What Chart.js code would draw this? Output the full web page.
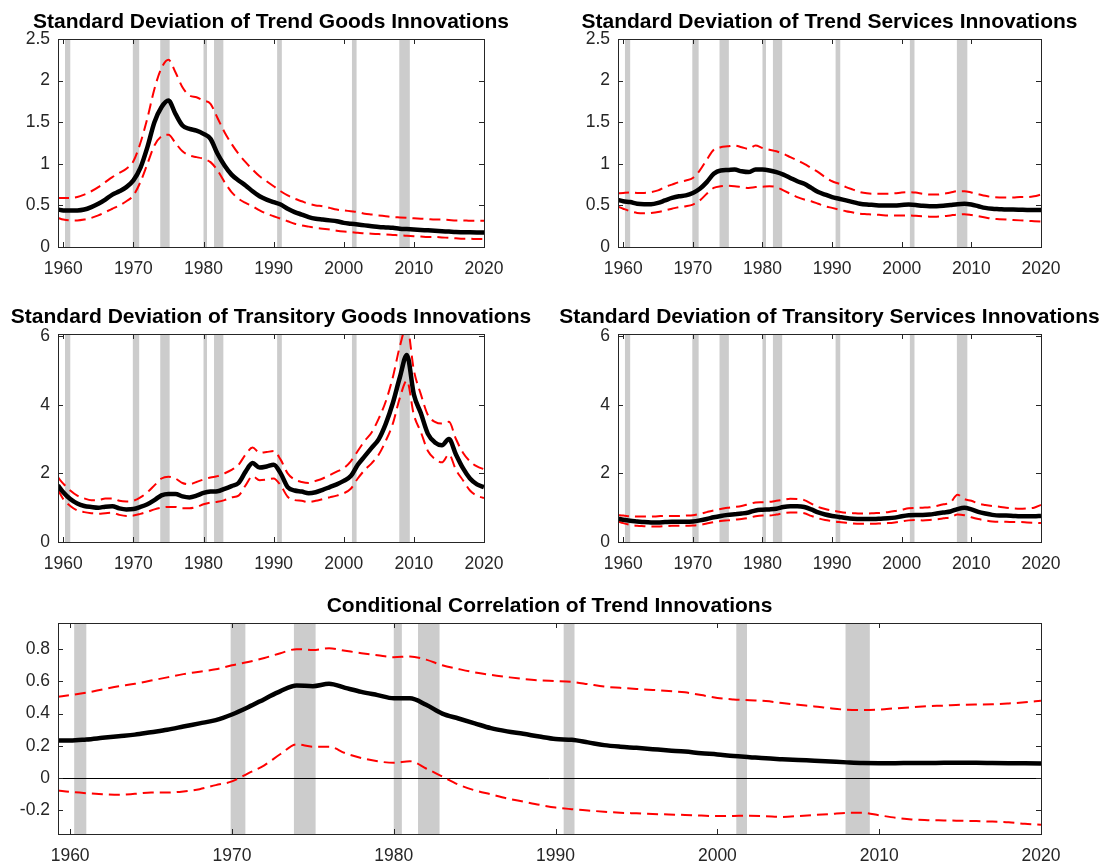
<!DOCTYPE html>
<html lang="en">
<head>
<meta charset="UTF-8">
<title>Trend and Transitory Innovations</title>
<script src="https://cdn.jsdelivr.net/npm/chart.js"></script>
<style>
  body { margin: 0; background: #fff; width: 1104px; height: 865px; overflow: hidden; position: relative; }
  canvas { position: absolute; }
</style>
</head>
<body>
<canvas id="trendGoods"></canvas>
<canvas id="trendServices"></canvas>
<canvas id="transGoods"></canvas>
<canvas id="transServices"></canvas>
<canvas id="trendCorr"></canvas>
<script>
// sample dates (first observation 1959Q2, then yearly)
const years = [1959.25,
  1960, 1961, 1962, 1963, 1964, 1965, 1966, 1967, 1968, 1969,
  1970, 1971, 1972, 1973, 1974, 1975, 1976, 1977, 1978, 1979,
  1980, 1981, 1982, 1983, 1984, 1985, 1986, 1987, 1988, 1989,
  1990, 1991, 1992, 1993, 1994, 1995, 1996, 1997, 1998, 1999,
  2000, 2001, 2002, 2003, 2004, 2005, 2006, 2007, 2008, 2009,
  2010, 2011, 2012, 2013, 2014, 2015, 2016, 2017, 2018, 2019,
  2020];

// NBER recessions (start, end)
const recessions = [[1960.25, 1961.0], [1969.92, 1970.83], [1973.83, 1975.17], [1980.0, 1980.5],
  [1981.5, 1982.83], [1990.5, 1991.17], [2001.17, 2001.83], [2007.92, 2009.42]];

const decadeTicks = [1960, 1970, 1980, 1990, 2000, 2010, 2020];
const trendTicks = [0, 0.5, 1, 1.5, 2, 2.5];
const transTicks = [0, 2, 4, 6];
const corrTicks = [-0.2, 0, 0.2, 0.4, 0.6, 0.8];

// Standard deviation of trend goods innovations
const trendGoodsMid = [0.45,
  0.44, 0.44, 0.44, 0.45, 0.48, 0.52, 0.57, 0.63, 0.67, 0.72,
  0.80, 0.95, 1.20, 1.50, 1.68, 1.76, 1.60, 1.46, 1.42, 1.40,
  1.36, 1.30, 1.12, 0.98, 0.87, 0.80, 0.74, 0.67, 0.61, 0.57,
  0.54, 0.51, 0.46, 0.42, 0.39, 0.36, 0.34, 0.33, 0.32, 0.31,
  0.29, 0.28, 0.27, 0.26, 0.25, 0.24, 0.235, 0.23, 0.22, 0.215,
  0.21, 0.205, 0.20, 0.195, 0.19, 0.185, 0.18, 0.178, 0.176, 0.175,
  0.175];
const trendGoodsHi = [0.59,
  0.59, 0.59, 0.60, 0.63, 0.67, 0.72, 0.78, 0.84, 0.89, 0.94,
  1.03, 1.25, 1.55, 1.90, 2.15, 2.25, 2.10, 1.92, 1.82, 1.80,
  1.76, 1.72, 1.55, 1.38, 1.24, 1.12, 1.02, 0.93, 0.85, 0.79,
  0.73, 0.67, 0.62, 0.58, 0.55, 0.52, 0.50, 0.49, 0.47, 0.45,
  0.44, 0.43, 0.42, 0.40, 0.39, 0.38, 0.37, 0.36, 0.355, 0.35,
  0.345, 0.34, 0.335, 0.33, 0.33, 0.325, 0.32, 0.32, 0.315, 0.315,
  0.315];
const trendGoodsLo = [0.35,
  0.33, 0.32, 0.32, 0.33, 0.35, 0.38, 0.42, 0.46, 0.50, 0.55,
  0.62, 0.78, 1.00, 1.22, 1.33, 1.35, 1.25, 1.15, 1.10, 1.08,
  1.06, 1.02, 0.92, 0.78, 0.66, 0.58, 0.53, 0.49, 0.44, 0.40,
  0.37, 0.34, 0.31, 0.28, 0.26, 0.245, 0.23, 0.22, 0.21, 0.195,
  0.185, 0.18, 0.17, 0.165, 0.16, 0.155, 0.15, 0.145, 0.14, 0.135,
  0.13, 0.125, 0.12, 0.12, 0.115, 0.11, 0.105, 0.10, 0.10, 0.095,
  0.095];

// Standard deviation of trend services innovations
const trendServMid = [0.565,
  0.55, 0.54, 0.52, 0.515, 0.515, 0.53, 0.56, 0.59, 0.61, 0.62,
  0.65, 0.70, 0.78, 0.88, 0.92, 0.925, 0.93, 0.91, 0.90, 0.93,
  0.93, 0.92, 0.90, 0.87, 0.83, 0.79, 0.76, 0.71, 0.66, 0.63,
  0.60, 0.58, 0.56, 0.54, 0.52, 0.51, 0.505, 0.50, 0.50, 0.50,
  0.505, 0.51, 0.505, 0.495, 0.49, 0.49, 0.495, 0.505, 0.515, 0.52,
  0.51, 0.49, 0.47, 0.46, 0.455, 0.45, 0.45, 0.448, 0.445, 0.445,
  0.445];
const trendServHi = [0.645,
  0.65, 0.655, 0.65, 0.65, 0.66, 0.68, 0.72, 0.75, 0.78, 0.80,
  0.83, 0.92, 1.05, 1.17, 1.20, 1.21, 1.22, 1.20, 1.18, 1.22,
  1.19, 1.17, 1.15, 1.12, 1.08, 1.04, 1.00, 0.95, 0.90, 0.84,
  0.79, 0.76, 0.72, 0.69, 0.66, 0.645, 0.64, 0.64, 0.64, 0.645,
  0.655, 0.66, 0.655, 0.64, 0.63, 0.63, 0.64, 0.655, 0.67, 0.67,
  0.655, 0.635, 0.615, 0.60, 0.595, 0.595, 0.595, 0.60, 0.60, 0.61,
  0.63];
const trendServLo = [0.485,
  0.46, 0.43, 0.41, 0.405, 0.41, 0.42, 0.44, 0.46, 0.48, 0.49,
  0.51, 0.56, 0.64, 0.71, 0.73, 0.735, 0.73, 0.72, 0.71, 0.72,
  0.725, 0.73, 0.72, 0.68, 0.64, 0.60, 0.57, 0.55, 0.52, 0.49,
  0.47, 0.45, 0.43, 0.415, 0.40, 0.395, 0.39, 0.385, 0.38, 0.38,
  0.38, 0.38, 0.375, 0.37, 0.365, 0.365, 0.37, 0.38, 0.39, 0.395,
  0.385, 0.37, 0.355, 0.34, 0.335, 0.33, 0.325, 0.32, 0.315, 0.31,
  0.305];

// Standard deviation of transitory goods innovations
const transGoodsMid = [1.65,
  1.45, 1.25, 1.12, 1.05, 1.02, 1.00, 1.03, 1.04, 0.98, 0.95,
  0.96, 1.02, 1.10, 1.22, 1.36, 1.40, 1.40, 1.33, 1.30, 1.35,
  1.43, 1.47, 1.48, 1.55, 1.63, 1.72, 2.05, 2.30, 2.17, 2.20,
  2.25, 2.00, 1.60, 1.50, 1.47, 1.42, 1.45, 1.52, 1.60, 1.68,
  1.78, 1.92, 2.25, 2.50, 2.75, 3.00, 3.45, 4.05, 4.80, 5.45,
  4.30, 3.75, 3.15, 2.90, 2.82, 3.00, 2.55, 2.15, 1.85, 1.68,
  1.60];
const transGoodsHi = [1.88,
  1.70, 1.50, 1.35, 1.27, 1.22, 1.22, 1.27, 1.27, 1.20, 1.18,
  1.20, 1.30, 1.45, 1.65, 1.85, 1.90, 1.85, 1.72, 1.68, 1.75,
  1.82, 1.88, 1.92, 2.00, 2.10, 2.25, 2.55, 2.75, 2.60, 2.62,
  2.65, 2.40, 2.00, 1.82, 1.75, 1.72, 1.78, 1.85, 1.95, 2.05,
  2.15, 2.35, 2.65, 2.95, 3.20, 3.60, 4.10, 4.80, 5.70, 6.30,
  5.00, 4.30, 3.70, 3.50, 3.45, 3.50, 3.00, 2.60, 2.35, 2.20,
  2.12];
const transGoodsLo = [1.52,
  1.25, 1.05, 0.92, 0.87, 0.84, 0.82, 0.84, 0.85, 0.79, 0.76,
  0.77, 0.82, 0.88, 0.95, 1.00, 1.02, 1.02, 0.98, 0.98, 1.02,
  1.10, 1.15, 1.17, 1.22, 1.30, 1.35, 1.65, 1.92, 1.80, 1.82,
  1.85, 1.65, 1.32, 1.22, 1.20, 1.16, 1.20, 1.25, 1.30, 1.35,
  1.42, 1.55, 1.85, 2.10, 2.30, 2.55, 2.95, 3.45, 4.20, 4.70,
  3.70, 3.20, 2.65, 2.42, 2.32, 2.55, 2.10, 1.80, 1.50, 1.35,
  1.28];

// Standard deviation of transitory services innovations
const transServMid = [0.68,
  0.65, 0.62, 0.60, 0.58, 0.57, 0.57, 0.58, 0.59, 0.59, 0.59,
  0.60, 0.63, 0.67, 0.72, 0.76, 0.79, 0.81, 0.83, 0.86, 0.92,
  0.94, 0.95, 0.97, 1.02, 1.04, 1.04, 1.02, 0.95, 0.86, 0.80,
  0.76, 0.73, 0.70, 0.68, 0.67, 0.67, 0.67, 0.68, 0.69, 0.71,
  0.75, 0.78, 0.79, 0.79, 0.80, 0.83, 0.86, 0.89, 0.96, 1.00,
  0.95, 0.88, 0.83, 0.79, 0.77, 0.77, 0.76, 0.75, 0.75, 0.75,
  0.76];
const transServHi = [0.78,
  0.77, 0.75, 0.74, 0.74, 0.74, 0.75, 0.76, 0.76, 0.76, 0.77,
  0.78, 0.82, 0.87, 0.92, 0.96, 1.00, 1.02, 1.05, 1.10, 1.15,
  1.16, 1.17, 1.20, 1.23, 1.26, 1.25, 1.22, 1.12, 1.02, 0.96,
  0.92, 0.88, 0.85, 0.84, 0.83, 0.83, 0.84, 0.85, 0.87, 0.90,
  0.94, 0.98, 0.99, 1.00, 1.01, 1.05, 1.10, 1.15, 1.38, 1.25,
  1.20, 1.12, 1.08, 1.05, 1.03, 1.00, 0.98, 0.97, 0.98, 1.00,
  1.08];
const transServLo = [0.60,
  0.55, 0.50, 0.47, 0.46, 0.45, 0.45, 0.46, 0.47, 0.47, 0.47,
  0.48, 0.50, 0.54, 0.58, 0.61, 0.63, 0.65, 0.67, 0.70, 0.75,
  0.77, 0.77, 0.80, 0.84, 0.86, 0.86, 0.84, 0.76, 0.69, 0.64,
  0.61, 0.58, 0.56, 0.54, 0.53, 0.53, 0.53, 0.54, 0.55, 0.57,
  0.60, 0.63, 0.64, 0.63, 0.64, 0.66, 0.69, 0.72, 0.80, 0.78,
  0.72, 0.67, 0.63, 0.60, 0.59, 0.59, 0.58, 0.58, 0.57, 0.56,
  0.55];

// Conditional correlation of trend innovations
const corrMid = [0.233,
  0.233, 0.24, 0.25, 0.26, 0.27, 0.285, 0.30, 0.32, 0.34, 0.36,
  0.395, 0.44, 0.49, 0.54, 0.575, 0.57, 0.585, 0.56, 0.535, 0.515,
  0.495, 0.495, 0.455, 0.40, 0.37, 0.34, 0.31, 0.29, 0.275, 0.258,
  0.243, 0.238, 0.222, 0.205, 0.195, 0.188, 0.18, 0.172, 0.165, 0.155,
  0.147, 0.137, 0.13, 0.123, 0.118, 0.113, 0.108, 0.103, 0.098, 0.094,
  0.093, 0.093, 0.094, 0.094, 0.095, 0.095, 0.095, 0.094, 0.093, 0.092,
  0.091];
const corrHi = [0.505,
  0.515, 0.53, 0.55, 0.57, 0.585, 0.605, 0.625, 0.645, 0.66, 0.675,
  0.70, 0.72, 0.745, 0.775, 0.80, 0.795, 0.805, 0.79, 0.775, 0.762,
  0.75, 0.755, 0.735, 0.70, 0.677, 0.656, 0.64, 0.627, 0.615, 0.606,
  0.602, 0.597, 0.583, 0.568, 0.56, 0.553, 0.547, 0.54, 0.532, 0.515,
  0.497, 0.488, 0.483, 0.478, 0.466, 0.455, 0.445, 0.433, 0.424, 0.422,
  0.425, 0.433, 0.44, 0.446, 0.45, 0.455, 0.457, 0.458, 0.463, 0.47,
  0.48];
const corrLo = [-0.076,
  -0.085, -0.093, -0.099, -0.103, -0.097, -0.089, -0.089, -0.082, -0.068, -0.043,
  -0.02, 0.03, 0.08, 0.15, 0.21, 0.195, 0.195, 0.155, 0.125, 0.105,
  0.095, 0.105, 0.06, 0.01, -0.04, -0.075, -0.10, -0.125, -0.145, -0.165,
  -0.182, -0.192, -0.20, -0.208, -0.214, -0.218, -0.222, -0.225, -0.228, -0.232,
  -0.235, -0.234, -0.233, -0.236, -0.24, -0.235, -0.228, -0.222, -0.215, -0.215,
  -0.23, -0.245, -0.256, -0.26, -0.262, -0.264, -0.266, -0.269, -0.273, -0.283,
  -0.289];

const FONT = "'Liberation Sans', Arial, Helvetica, sans-serif";
const AXIS_COLOR = '#262626';
const MARGIN = 64; // room left/right of each plot box for labels and titles

// grey shading for recessions, drawn under the lines
const bandsPlugin = {
  id: 'recessionBands',
  beforeDatasetsDraw(chart) {
    const { ctx, chartArea: a, scales: { x } } = chart;
    ctx.save();
    ctx.fillStyle = '#cccccc';
    recessions.forEach(([s, e]) => {
      const x1 = Math.max(x.getPixelForValue(s), a.left);
      const x2 = Math.min(x.getPixelForValue(e), a.right);
      ctx.fillRect(x1, a.top, x2 - x1, a.bottom - a.top);
    });
    const opts = chart.options.plugins.recessionBands || {};
    if (opts.zeroLine) {
      const y0 = Math.round(chart.scales.y.getPixelForValue(0)) + 0.5;
      ctx.strokeStyle = '#000';
      ctx.lineWidth = 1;
      ctx.beginPath();
      ctx.moveTo(a.left, y0);
      ctx.lineTo(a.right, y0);
      ctx.stroke();
    }
    ctx.restore();
  }
};

// matlab-like box with inward tick marks on all four sides
const framePlugin = {
  id: 'axesFrame',
  afterDatasetsDraw(chart) {
    const { ctx, chartArea: a, scales: { x, y } } = chart;
    const len = 5;
    ctx.save();
    ctx.strokeStyle = AXIS_COLOR;
    ctx.lineWidth = 1;
    ctx.beginPath();
    x.ticks.forEach(t => {
      const px = Math.round(x.getPixelForValue(t.value)) + 0.5;
      ctx.moveTo(px, a.bottom); ctx.lineTo(px, a.bottom - len);
      ctx.moveTo(px, a.top); ctx.lineTo(px, a.top + len);
    });
    y.ticks.forEach(t => {
      const py = Math.round(y.getPixelForValue(t.value)) + 0.5;
      ctx.moveTo(a.left, py); ctx.lineTo(a.left + len, py);
      ctx.moveTo(a.right, py); ctx.lineTo(a.right - len, py);
    });
    ctx.stroke();
    ctx.strokeRect(Math.round(a.left) + 0.5, Math.round(a.top) + 0.5,
      Math.round(a.right - a.left), Math.round(a.bottom - a.top));
    ctx.restore();
  }
};

function lineSet(values, color, width, dash) {
  return {
    data: years.map((yr, i) => ({ x: yr, y: values[i] })),
    borderColor: color,
    borderWidth: width,
    borderDash: dash,
    borderJoinStyle: 'round',
    pointRadius: 0,
    cubicInterpolationMode: 'monotone',
    fill: false,
    clip: 0
  };
}

// box = plot area in page pixels
function makePanel(id, box, title, yMin, yMax, yTicks, mid, lo, hi, zeroLine) {
  const canvas = document.getElementById(id);
  canvas.width = box.r - box.l + 2 * MARGIN;
  canvas.height = box.b - box.t + 40 + 45;
  canvas.style.left = (box.l - MARGIN) + 'px';
  canvas.style.top = (box.t - 40) + 'px';

  new Chart(canvas, {
    type: 'line',
    data: {
      datasets: [
        lineSet(mid, '#000000', 4.5, []),
        lineSet(hi, '#ff0000', 2, [11, 6]),
        lineSet(lo, '#ff0000', 2, [11, 6])
      ]
    },
    options: {
      responsive: false,
      animation: false,
      events: [],
      layout: { padding: 0 },
      scales: {
        x: {
          type: 'linear',
          min: 1959.25,
          max: 2020,
          afterBuildTicks: s => { s.ticks = decadeTicks.map(v => ({ value: v })); },
          afterFit: s => { s.height = 45; },
          grid: { display: false, drawTicks: false },
          border: { display: false },
          ticks: {
            autoSkip: false, maxRotation: 0, padding: 12,
            color: AXIS_COLOR, font: { family: FONT, size: 17.5 },
            callback: v => String(v)
          }
        },
        y: {
          type: 'linear',
          min: yMin,
          max: yMax,
          afterBuildTicks: s => { s.ticks = yTicks.map(v => ({ value: v })); },
          afterFit: s => { s.width = MARGIN; },
          grid: { display: false, drawTicks: false },
          border: { display: false },
          ticks: {
            autoSkip: false, padding: 8,
            color: AXIS_COLOR, font: { family: FONT, size: 17.5 },
            callback: v => String(v)
          }
        },
        // empty right axis, only there so the title centres over the plot box
        yRight: {
          type: 'linear',
          position: 'right',
          afterFit: s => { s.width = MARGIN; },
          grid: { display: false, drawTicks: false },
          border: { display: false },
          ticks: { display: false }
        }
      },
      plugins: {
        legend: { display: false },
        tooltip: { enabled: false },
        title: {
          display: true,
          text: title,
          color: '#000000',
          font: { family: FONT, size: 21, weight: 'bold', lineHeight: 1.2 },
          padding: { top: 11, bottom: 3.8 }
        },
        recessionBands: { zeroLine: zeroLine }
      }
    },
    plugins: [bandsPlugin, framePlugin]
  });
}

makePanel('trendGoods', { l: 58, t: 39, r: 484, b: 247 },
  'Standard Deviation of Trend Goods Innovations', 0, 2.5, trendTicks,
  trendGoodsMid, trendGoodsLo, trendGoodsHi, false);
makePanel('trendServices', { l: 618, t: 39, r: 1041, b: 247 },
  'Standard Deviation of Trend Services Innovations', 0, 2.5, trendTicks,
  trendServMid, trendServLo, trendServHi, false);
makePanel('transGoods', { l: 58, t: 334, r: 484, b: 542 },
  'Standard Deviation of Transitory Goods Innovations', 0, 6.06, transTicks,
  transGoodsMid, transGoodsLo, transGoodsHi, false);
makePanel('transServices', { l: 618, t: 334, r: 1041, b: 542 },
  'Standard Deviation of Transitory Services Innovations', 0, 6.06, transTicks,
  transServMid, transServLo, transServHi, false);
makePanel('trendCorr', { l: 58, t: 623, r: 1041, b: 834 },
  'Conditional Correlation of Trend Innovations', -0.346, 0.962, corrTicks,
  corrMid, corrLo, corrHi, true);
</script>
</body>
</html>
